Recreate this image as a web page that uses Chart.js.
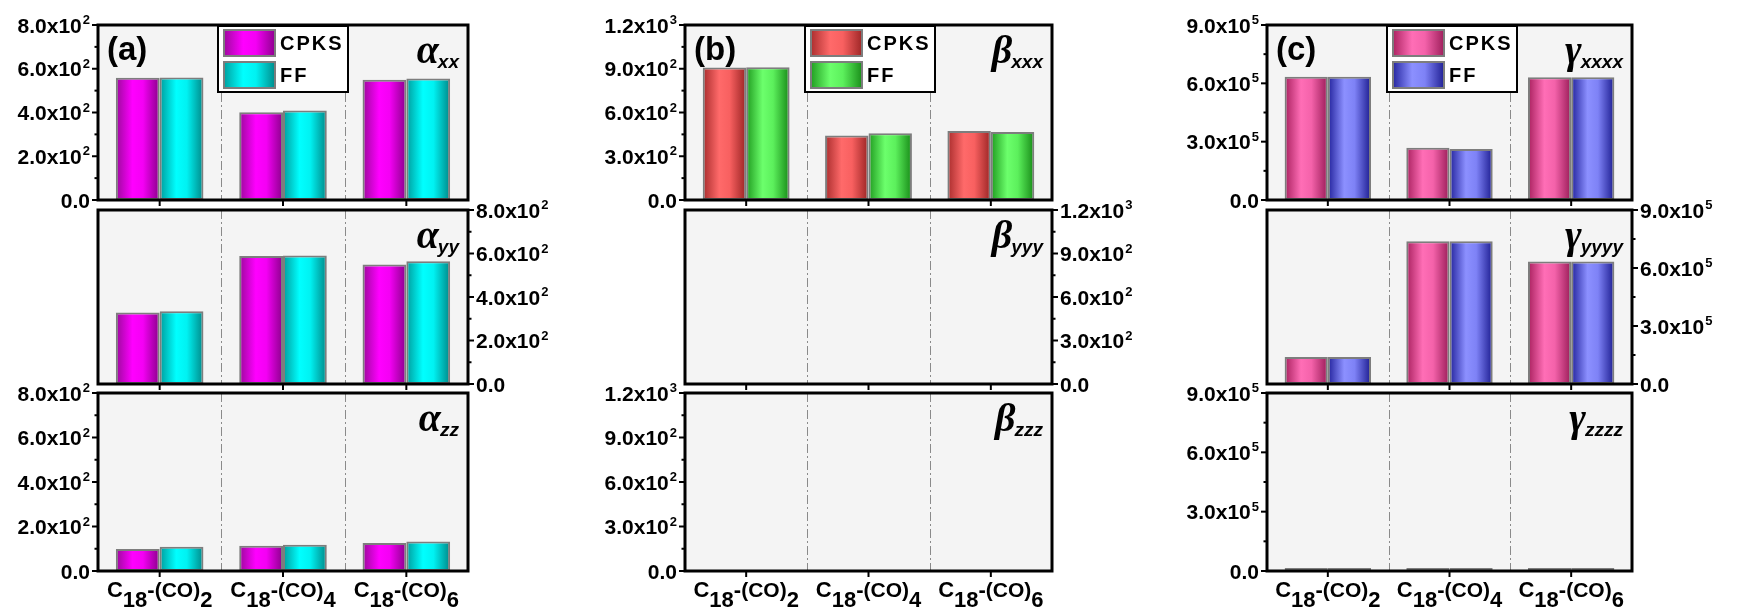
<!DOCTYPE html>
<html>
<head>
<meta charset="utf-8">
<script src="https://cdn.jsdelivr.net/npm/chart.js@4.4.0/dist/chart.umd.min.js"></script>
<style>
  body { margin: 0; background: #fff; }
  #wrap { position: relative; width: 1763px; height: 610px; }
  #wrap canvas { position: absolute; left: 0; top: 0; }
</style>
</head>
<body>
<div id="wrap"></div>
<script>
const W = 1763, H = 610;

const categories = ['C18-(CO)2', 'C18-(CO)4', 'C18-(CO)6'];
const seriesNames = ['CPKS', 'FF'];

// (a) polarizability
const alphaXXCpks = [559, 401, 550];
const alphaXXFf   = [560, 409, 556];
const alphaYYCpks = [329, 588, 550];
const alphaYYFf   = [334, 591, 564];
const alphaZZCpks = [99, 114, 126];
const alphaZZFf   = [109, 118, 133];

// (b) first hyperpolarizability
const betaXXXCpks = [909, 443, 473];
const betaXXXFf   = [910, 457, 466];
const betaYYYCpks = [0, 0, 0];
const betaYYYFf   = [0, 0, 0];
const betaZZZCpks = [0, 0, 0];
const betaZZZFf   = [0, 0, 0];

// (c) second hyperpolarizability
const gammaXXXXCpks = [634000, 269000, 631000];
const gammaXXXXFf   = [634000, 262000, 631000];
const gammaYYYYCpks = [140000, 739000, 633000];
const gammaYYYYFf   = [140000, 739000, 633000];
const gammaZZZZCpks = [15000, 15000, 15000];
const gammaZZZZFf   = [15000, 15000, 15000];

// axis ranges (ticks every step, labelled every second one)
const alphaAxis = { max: 800, step: 100 };
const betaAxis  = { max: 1200, step: 150 };
const gammaAxis = { max: 900000, step: 150000 };

const CAT_PCT = 0.71;
const SANS = '"Liberation Sans", Arial, sans-serif';
const SERIF = '"Liberation Serif", "Times New Roman", serif';

const columns = [
  { letter: '(a)', x0: 98, x1: 468, axis: alphaAxis, greek: '\u03b1',
    stops: [['#9a0a9a', '#ff00ff', '#f400f4', '#8a008a'], ['#009c9c', '#00ffff', '#00f2f2', '#008888']],
    rows: [['xx', alphaXXCpks, alphaXXFf], ['yy', alphaYYCpks, alphaYYFf], ['zz', alphaZZCpks, alphaZZFf]] },
  { letter: '(b)', x0: 685, x1: 1052, axis: betaAxis, greek: '\u03b2',
    stops: [['#a82c2c', '#ff6a6a', '#f86060', '#9a2424'], ['#1f9a1f', '#6cff6c', '#5cf05c', '#178a17']],
    rows: [['xxx', betaXXXCpks, betaXXXFf], ['yyy', betaYYYCpks, betaYYYFf], ['zzz', betaZZZCpks, betaZZZFf]] },
  { letter: '(c)', x0: 1267, x1: 1632, axis: gammaAxis, greek: '\u03b3',
    stops: [['#a8205e', '#ff6eb6', '#f462aa', '#9a1c58'], ['#22229c', '#8c90ff', '#7e82f6', '#1c1c90']],
    rows: [['xxxx', gammaXXXXCpks, gammaXXXXFf], ['yyyy', gammaYYYYCpks, gammaYYYYFf], ['zzzz', gammaZZZZCpks, gammaZZZZFf]] }
];

const rowsY = [[25, 200], [210, 384], [393, 571]];
const tickSide = ['left', 'right', 'left'];

function makeGradient(c, left, width, stops) {
  const g = c.createLinearGradient(left, 0, left + width, 0);
  g.addColorStop(0, stops[0]);
  g.addColorStop(0.38, stops[1]);
  g.addColorStop(0.62, stops[2]);
  g.addColorStop(1, stops[3]);
  return g;
}

function barFill(stops) {
  return (ctx) => {
    const chart = ctx.chart;
    const xs = chart.scales.x;
    if (ctx.type !== 'data' || !xs || !chart.chartArea) return stops[1];
    const catW = xs.width / categories.length;
    const barW = catW * CAT_PCT / 2;
    const cx = xs.getPixelForValue(ctx.dataIndex);
    const left = cx - barW + ctx.datasetIndex * barW;
    return makeGradient(chart.ctx, left, barW, stops);
  };
}

function drawSci(c, v, x, y, align) {
  let main, exp = null;
  if (v === 0) {
    main = '0.0';
  } else {
    const e = Math.floor(Math.log10(v) + 1e-9);
    main = (v / Math.pow(10, e)).toFixed(1) + 'x10';
    exp = String(e);
  }
  c.font = 'bold 21px ' + SANS;
  const w1 = c.measureText(main).width;
  c.font = 'bold 13px ' + SANS;
  const w2 = exp ? c.measureText(exp).width + 1 : 0;
  const x0 = align === 'right' ? x - w1 - w2 : x;
  c.textAlign = 'left';
  c.textBaseline = 'alphabetic';
  c.font = 'bold 21px ' + SANS;
  c.fillText(main, x0, y + 7.5);
  if (exp) {
    c.font = 'bold 13px ' + SANS;
    c.fillText(exp, x0 + w1 + 1, y - 1);
  }
}

function drawCategory(c, label, cx, base) {
  const m = label.match(/^(C)(\d+)(-)(\(CO\))(\d+)$/);
  const parts = [
    { t: m[1], f: 'bold 22px ' + SANS, dy: 0 },
    { t: m[2], f: 'bold 22px ' + SANS, dy: 10 },
    { t: m[3], f: 'bold 22px ' + SANS, dy: 0 },
    { t: m[4], f: 'bold 21px ' + SANS, dy: 0 },
    { t: m[5], f: 'bold 22px ' + SANS, dy: 10 }
  ];
  let total = 0;
  parts.forEach(p => { c.font = p.f; p.w = c.measureText(p.t).width; total += p.w; });
  let x = cx - total / 2;
  c.textAlign = 'left';
  c.textBaseline = 'alphabetic';
  parts.forEach(p => { c.font = p.f; c.fillText(p.t, x, base + p.dy); x += p.w; });
}

const deco = {
  id: 'deco',
  beforeDatasetsDraw(chart, args, o) {
    const c = chart.ctx, a = chart.chartArea, xs = chart.scales.x;
    c.save();
    c.fillStyle = '#f4f4f4';
    c.fillRect(a.left, a.top, a.right - a.left, a.bottom - a.top);
    const catW = xs.width / categories.length;
    c.strokeStyle = '#8a8a8a';
    c.lineWidth = 1;
    c.setLineDash([9, 3, 2, 3]);
    for (let i = 0; i < categories.length - 1; i++) {
      const x = Math.round(xs.getPixelForValue(i) + catW / 2) + 0.5;
      c.beginPath(); c.moveTo(x, a.top); c.lineTo(x, a.bottom); c.stroke();
    }
    c.restore();
  },
  afterDatasetsDraw(chart, args, o) {
    const c = chart.ctx, a = chart.chartArea, xs = chart.scales.x, ys = chart.scales.y;
    c.save();
    c.fillStyle = '#000';
    c.strokeStyle = '#000';

    // frame
    c.lineWidth = 3;
    c.strokeRect(a.left, a.top, a.right - a.left, a.bottom - a.top);

    // y ticks
    c.lineWidth = 2;
    const side = o.side;
    const ax = side === 'left' ? a.left : a.right;
    const dir = side === 'left' ? -1 : 1;
    ys.ticks.forEach((t, i) => {
      const y = ys.getPixelForValue(t.value);
      const len = i % 2 === 0 ? 6 : 3.5;
      c.beginPath(); c.moveTo(ax, y); c.lineTo(ax + dir * len, y); c.stroke();
      if (i % 2 === 0) {
        drawSci(c, t.value, ax + dir * 8, y, side === 'left' ? 'right' : 'left');
      }
    });

    // x ticks at category centres
    categories.forEach((lab, i) => {
      const x = xs.getPixelForValue(i);
      c.beginPath(); c.moveTo(x, a.bottom); c.lineTo(x, a.bottom + 6); c.stroke();
      if (o.showX) drawCategory(c, lab, x, a.bottom + 26);
    });

    // tensor component label
    c.textBaseline = 'alphabetic';
    c.textAlign = 'left';
    c.font = 'bold italic 19px ' + SANS;
    const subW = c.measureText(o.sub).width;
    c.font = 'bold italic 40px ' + SERIF;
    const gW = c.measureText(o.greek).width;
    const gx = a.right - 8 - subW - gW;
    c.fillText(o.greek, gx, a.top + 38);
    c.font = 'bold italic 19px ' + SANS;
    c.fillText(o.sub, gx + gW - 1, a.top + 43);

    if (o.top) {
      // panel letter
      c.font = 'bold 33px ' + SANS;
      c.fillText(o.letter, a.left + 9, a.top + 35);

      // legend box
      const lx = a.left + 120, ly = a.top + 1, lw = 130, lh = 66;
      c.fillStyle = '#fff';
      c.fillRect(lx, ly, lw, lh);
      c.lineWidth = 2;
      c.strokeRect(lx, ly, lw, lh);
      chart.data.datasets.forEach((ds, k) => {
        const sy = ly + 3 + k * 32;
        c.fillStyle = makeGradient(c, lx + 5, 53, o.stops[k]);
        c.fillRect(lx + 5, sy, 53, 28);
        c.strokeStyle = '#7d7d7d';
        c.lineWidth = 2;
        c.strokeRect(lx + 6, sy + 1, 51, 26);
        c.fillStyle = '#000';
        c.font = 'bold 20px ' + SANS;
        c.letterSpacing = '2px';
        c.textBaseline = 'middle';
        c.fillText(ds.label, lx + 62, sy + 15);
        c.letterSpacing = '0px';
        c.textBaseline = 'alphabetic';
      });
    }
    c.restore();
  }
};

const wrap = document.getElementById('wrap');

columns.forEach(col => {
  col.rows.forEach((row, r) => {
    const [sub, cpks, ff] = row;
    const canvas = document.createElement('canvas');
    canvas.width = W;
    canvas.height = H;
    wrap.appendChild(canvas);
    const [y0, y1] = rowsY[r];
    new Chart(canvas, {
      type: 'bar',
      data: {
        labels: categories,
        datasets: [cpks, ff].map((vals, k) => ({
          label: seriesNames[k],
          data: vals,
          backgroundColor: barFill(col.stops[k]),
          borderColor: '#7d7d7d',
          borderWidth: 2,
          borderSkipped: false
        }))
      },
      options: {
        responsive: false,
        animation: false,
        events: [],
        categoryPercentage: CAT_PCT,
        barPercentage: 1,
        layout: { padding: { left: col.x0, right: W - col.x1, top: y0, bottom: H - y1 } },
        scales: {
          x: { display: false },
          y: { display: false, min: 0, max: col.axis.max, ticks: { stepSize: col.axis.step } }
        },
        plugins: {
          legend: { display: false },
          tooltip: { enabled: false },
          deco: {
            side: tickSide[r],
            showX: r === 2,
            top: r === 0,
            letter: col.letter,
            greek: col.greek,
            sub: sub,
            stops: col.stops
          }
        }
      },
      plugins: [deco]
    });
  });
});
</script>
</body>
</html>
